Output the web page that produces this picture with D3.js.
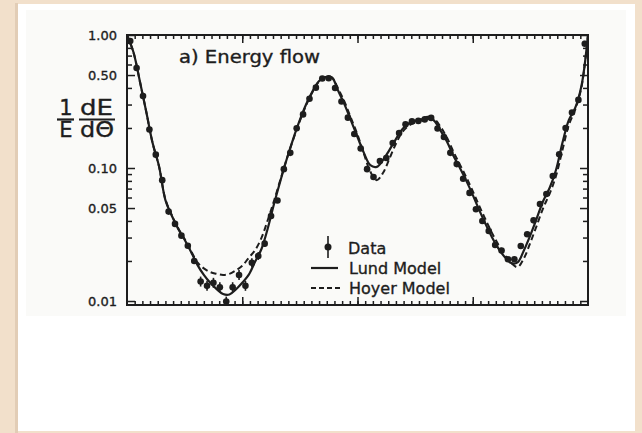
<!DOCTYPE html>
<html>
<head>
<meta charset="utf-8">
<script src="https://cdn.jsdelivr.net/npm/d3@7"></script>
<style>
  body { margin: 0; background: #f2e0cb; }
  svg { display: block; }
  text { font-family: "DejaVu Sans", sans-serif; fill: #1d1d1d; stroke: #1d1d1d; stroke-width: 0.35; }
</style>
</head>
<body>
<svg id="chart" width="642" height="433"></svg>
<script>
// bin centres (degrees) and measured energy flow
var binTheta = [2.5, 7.5, 12.5, 17.5, 22.5, 27.5, 32.5, 37.5, 42.5, 47.5, 52.5, 57.5,
  62.5, 67.5, 72.5, 77.5, 82.5, 87.5, 92.5, 97.5, 102.5, 107.5, 112.5, 117.5,
  122.5, 127.5, 132.5, 137.5, 142.5, 147.5, 152.5, 157.5, 162.5, 167.5, 172.5, 177.5,
  182.5, 187.5, 192.5, 197.5, 202.5, 207.5, 212.5, 217.5, 222.5, 227.5, 232.5, 237.5,
  242.5, 247.5, 252.5, 257.5, 262.5, 267.5, 272.5, 277.5, 282.5, 287.5, 292.5, 297.5,
  302.5, 307.5, 312.5, 317.5, 322.5, 327.5, 332.5, 337.5, 342.5, 347.5, 352.5, 357.5];
var dataValues = [0.90, 0.565, 0.348, 0.195, 0.126, 0.081, 0.047, 0.038, 0.031, 0.026, 0.020, 0.0140,
  0.0130, 0.0137, 0.0127, 0.0099, 0.0127, 0.0157, 0.0130, 0.0194, 0.0218, 0.0270, 0.0436, 0.057,
  0.098, 0.130, 0.199, 0.253, 0.332, 0.402, 0.471, 0.473, 0.40, 0.316, 0.239, 0.180,
  0.140, 0.098, 0.0856, 0.113, 0.119, 0.154, 0.183, 0.213, 0.224, 0.226, 0.232, 0.238,
  0.198, 0.171, 0.130, 0.107, 0.083, 0.065, 0.049, 0.040, 0.0336, 0.0264, 0.0240, 0.0206,
  0.0206, 0.0259, 0.0318, 0.0404, 0.0536, 0.0638, 0.087, 0.127, 0.200, 0.261, 0.325, 0.86];
// relative errors
var dataErrors = [0.03, 0.03, 0.03, 0.03, 0.03, 0.03, 0.03, 0.03, 0.04, 0.04, 0.05, 0.09,
  0.09, 0.09, 0.09, 0.09, 0.09, 0.09, 0.09, 0.08, 0.07, 0.06, 0.04, 0.04,
  0.03, 0.03, 0.03, 0.03, 0.03, 0.03, 0.03, 0.03, 0.03, 0.03, 0.03, 0.03,
  0.03, 0.03, 0.04, 0.03, 0.03, 0.03, 0.03, 0.03, 0.03, 0.03, 0.03, 0.03,
  0.03, 0.03, 0.03, 0.03, 0.03, 0.03, 0.03, 0.03, 0.03, 0.04, 0.04, 0.04,
  0.04, 0.04, 0.03, 0.03, 0.03, 0.03, 0.03, 0.03, 0.03, 0.03, 0.03, 0.03];

// model curves
var modelTheta = [0, 5, 10, 15, 20, 25, 30, 35, 40, 45, 50, 55, 60, 65, 70, 75, 80, 85, 90,
  95, 100, 105, 110, 115, 120, 125, 130, 135, 140, 145, 150, 155, 160, 165, 170, 175, 180,
  185, 190, 195, 200, 205, 210, 215, 220, 225, 230, 235, 240, 245, 250, 255, 260, 265, 270,
  275, 280, 285, 290, 295, 300, 305, 310, 315, 320, 325, 330, 335, 340, 345, 350, 355, 360];
var lundValues = [1.0, 0.745, 0.451, 0.266, 0.154, 0.103, 0.0574, 0.0437, 0.0348, 0.0289, 0.0234, 0.0187, 0.0157,
  0.0137, 0.0123, 0.0113, 0.0112, 0.0122, 0.0137, 0.0157, 0.0197, 0.0246, 0.0354, 0.0546, 0.0813,
  0.119, 0.168, 0.230, 0.303, 0.379, 0.451, 0.483, 0.479, 0.379, 0.298, 0.226, 0.171,
  0.130, 0.105, 0.102, 0.115, 0.137, 0.165, 0.196, 0.216, 0.226, 0.232, 0.242, 0.226,
  0.190, 0.157, 0.123, 0.100, 0.080, 0.0628, 0.0484, 0.0379, 0.0302, 0.0249, 0.0214, 0.0193,
  0.0195, 0.0241, 0.0313, 0.0419, 0.0565, 0.0707, 0.0967, 0.154, 0.229, 0.283, 0.42, 1.0];
var hoyerValues = [1.0, 0.745, 0.451, 0.266, 0.154, 0.103, 0.0580, 0.0442, 0.0352, 0.0292, 0.0238, 0.0195, 0.0176,
  0.0165, 0.0160, 0.0157, 0.0160, 0.0170, 0.0184, 0.0211, 0.0241, 0.0298, 0.0408, 0.0575, 0.083,
  0.119, 0.166, 0.226, 0.298, 0.375, 0.447, 0.480, 0.478, 0.392, 0.312, 0.236, 0.178,
  0.128, 0.094, 0.081, 0.092, 0.118, 0.152, 0.186, 0.208, 0.220, 0.227, 0.234, 0.232,
  0.203, 0.168, 0.132, 0.106, 0.085, 0.067, 0.052, 0.041, 0.0325, 0.0265, 0.0222, 0.0193,
  0.0180, 0.0210, 0.0275, 0.037, 0.050, 0.064, 0.087, 0.136, 0.21, 0.275, 0.41, 1.0];

var yTickValues = [1, 0.5, 0.1, 0.05, 0.01];
var yTickLabels = ["1.00", "0.50", "0.10", "0.05", "0.01"];
var yMinorValues = [0.9, 0.8, 0.7, 0.6, 0.4, 0.3, 0.2, 0.09, 0.08, 0.07, 0.06, 0.04, 0.03, 0.02];
var xMajorValues = [90, 180, 270];

(function() {
  var svg = d3.select("#chart"),
      ink = "#1d1d1d",
      pl = 127, pr = 588, pt = 35, pb = 305;

  // page: beige frame, white sheet, slightly grey scan
  svg.append("rect").attr("width", 642).attr("height", 433).attr("fill", "#f2e0cb");
  svg.append("rect").attr("x", 15).attr("y", 3).attr("width", 3).attr("height", 430).attr("fill", "#e2cdb6");
  svg.append("rect").attr("x", 18).attr("y", 4).attr("width", 617).attr("height", 427).attr("fill", "#ffffff");
  svg.append("rect").attr("x", 26).attr("y", 10).attr("width", 600).attr("height", 306).attr("fill", "#fafaf8");

  var x = d3.scaleLinear().domain([0, 360]).range([pl, pr]);
  var y = d3.scaleLog().domain([0.01 * Math.pow(10, -4 / 133), 1]).range([pb, pt]);

  svg.append("clipPath").attr("id", "plot")
    .append("rect").attr("x", pl).attr("y", pt).attr("width", pr - pl).attr("height", pb - pt);

  var line = d3.line()
      .x(function(d) { return x(d[0]); })
      .y(function(d) { return y(d[1]); })
      .curve(d3.curveCatmullRom.alpha(0.5));

  var g = svg.append("g").attr("clip-path", "url(#plot)");

  g.append("path")
    .datum(d3.zip(modelTheta, hoyerValues))
    .attr("d", line)
    .attr("fill", "none")
    .attr("stroke", ink)
    .attr("stroke-width", 2)
    .attr("stroke-dasharray", "6,3.5");

  g.append("path")
    .datum(d3.zip(modelTheta, lundValues))
    .attr("d", line)
    .attr("fill", "none")
    .attr("stroke", ink)
    .attr("stroke-width", 2.2);

  var pts = binTheta.map(function(t, i) { return {t: t, v: dataValues[i], e: dataErrors[i]}; });

  g.selectAll(".err")
    .data(pts)
    .enter().append("line")
      .attr("class", "err")
      .attr("x1", function(d) { return x(d.t); })
      .attr("x2", function(d) { return x(d.t); })
      .attr("y1", function(d) { return y(d.v * (1 + d.e)); })
      .attr("y2", function(d) { return y(d.v / (1 + d.e)); })
      .attr("stroke", ink)
      .attr("stroke-width", 1.6);

  g.selectAll(".dot")
    .data(pts)
    .enter().append("circle")
      .attr("class", "dot")
      .attr("cx", function(d) { return x(d.t); })
      .attr("cy", function(d) { return y(d.v); })
      .attr("r", 3.3)
      .attr("fill", ink);

  // axes: all ticks point inwards
  function styleAxis(sel) {
    sel.select(".domain").remove();
    sel.selectAll("line").attr("stroke", ink).attr("stroke-width", 1.5);
  }

  svg.append("g")
      .attr("transform", "translate(" + pl + ",0)")
      .call(d3.axisLeft(y).tickValues(yTickValues).tickSize(-8).tickPadding(10)
        .tickFormat(function(d, i) { return yTickLabels[i]; }))
      .call(styleAxis)
      .selectAll("text")
        .style("font-family", "DejaVu Sans, sans-serif")
        .style("font-size", "13px")
        .attr("fill", ink)
        .attr("dy", "0.36em");

  svg.append("g")
      .attr("transform", "translate(" + pl + ",0)")
      .call(d3.axisLeft(y).tickValues(yMinorValues).tickSize(-5).tickFormat(""))
      .call(styleAxis);

  svg.append("g")
      .attr("transform", "translate(" + pr + ",0)")
      .call(d3.axisRight(y).tickValues(yTickValues).tickSize(-8).tickFormat(""))
      .call(styleAxis);

  svg.append("g")
      .attr("transform", "translate(" + pr + ",0)")
      .call(d3.axisRight(y).tickValues(yMinorValues).tickSize(-5).tickFormat(""))
      .call(styleAxis);

  [[pt, d3.axisTop], [pb, d3.axisBottom]].forEach(function(a) {
    svg.append("g")
        .attr("transform", "translate(0," + a[0] + ")")
        .call(a[1](x).tickValues(d3.range(6, 360, 6)).tickSize(-4).tickFormat(""))
        .call(styleAxis);
    svg.append("g")
        .attr("transform", "translate(0," + a[0] + ")")
        .call(a[1](x).tickValues(xMajorValues).tickSize(-8).tickFormat(""))
        .call(styleAxis);
  });

  svg.append("rect")
      .attr("x", pl).attr("y", pt)
      .attr("width", pr - pl).attr("height", pb - pt)
      .attr("fill", "none")
      .attr("stroke", ink)
      .attr("stroke-width", 2);

  // y axis title: 1/E dE/dΘ
  var yt = svg.append("g");
  yt.append("text").attr("x", 66).attr("y", 115).attr("text-anchor", "middle")
    .style("font-size", "21px").text("1");
  yt.append("line").attr("x1", 57).attr("x2", 74).attr("y1", 119.5).attr("y2", 119.5)
    .attr("stroke", ink).attr("stroke-width", 2.2);
  yt.append("text").attr("x", 66).attr("y", 137).attr("text-anchor", "middle")
    .style("font-size", "21px").text("E");
  yt.append("text").attr("x", 80).attr("y", 115).attr("textLength", 33).attr("lengthAdjust", "spacingAndGlyphs")
    .style("font-size", "21px").text("dE");
  yt.append("line").attr("x1", 79).attr("x2", 115).attr("y1", 119.5).attr("y2", 119.5)
    .attr("stroke", ink).attr("stroke-width", 2.2);
  yt.append("text").attr("x", 80).attr("y", 137).attr("textLength", 34).attr("lengthAdjust", "spacingAndGlyphs")
    .style("font-size", "21px").text("dΘ");

  // panel title
  svg.append("text")
      .attr("x", 179).attr("y", 63)
      .attr("textLength", 141).attr("lengthAdjust", "spacingAndGlyphs")
      .style("font-size", "17px")
      .text("a) Energy  flow");

  // legend
  var lg = svg.append("g");
  lg.append("line").attr("x1", 328).attr("x2", 328).attr("y1", 236).attr("y2", 258)
    .attr("stroke", ink).attr("stroke-width", 1.6);
  lg.append("circle").attr("cx", 328).attr("cy", 247).attr("r", 3.5).attr("fill", ink);
  lg.append("text").attr("x", 348).attr("y", 254).style("font-size", "16px").text("Data");
  lg.append("line").attr("x1", 311).attr("x2", 338).attr("y1", 268).attr("y2", 268)
    .attr("stroke", ink).attr("stroke-width", 2.2);
  lg.append("text").attr("x", 349).attr("y", 274).style("font-size", "16px").text("Lund Model");
  lg.append("line").attr("x1", 311).attr("x2", 340).attr("y1", 288).attr("y2", 288)
    .attr("stroke", ink).attr("stroke-width", 2).attr("stroke-dasharray", "5,3");
  lg.append("text").attr("x", 349).attr("y", 294).style("font-size", "16px").text("Hoyer Model");
})();
</script>
</body>
</html>
